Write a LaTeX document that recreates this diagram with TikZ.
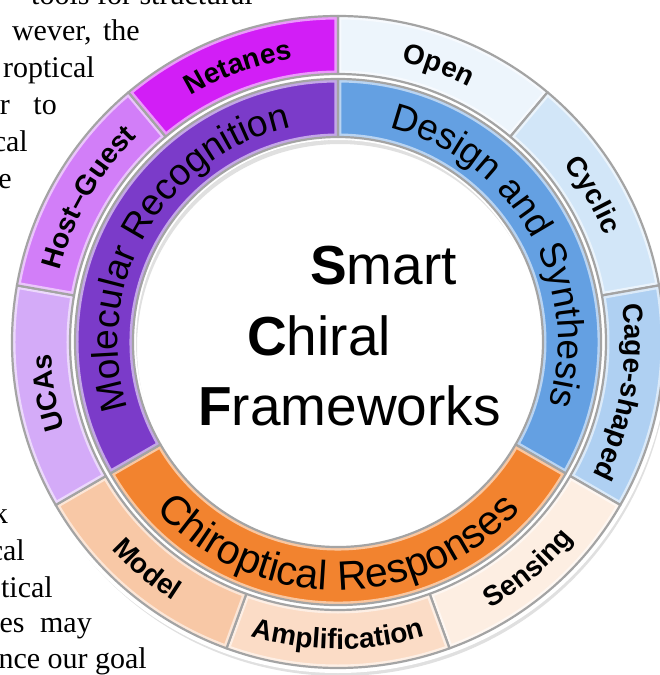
\documentclass[tikz,border=0pt]{standalone}
\usepackage{fontspec}
\setmainfont{Liberation Serif}
\setsansfont{Liberation Sans}
\usepackage{tikz}
\usetikzlibrary{decorations.text}

\definecolor{molrec}{HTML}{7B3BC9}
\definecolor{design}{HTML}{64A0E2}
\definecolor{chirop}{HTML}{F2832F}
\definecolor{netanes}{HTML}{D21EF6}
\definecolor{hostguest}{HTML}{D27EF8}
\definecolor{ucas}{HTML}{D4ABF8}
\definecolor{open}{HTML}{EDF5FC}
\definecolor{cyclic}{HTML}{D2E6F8}
\definecolor{cage}{HTML}{AFD0F2}
\definecolor{sensing}{HTML}{FDEEE2}
\definecolor{amplif}{HTML}{FBDCC6}
\definecolor{model}{HTML}{F8C8A6}
\definecolor{segline}{HTML}{A4A4A4}

\newcommand{\innerfont}{\fontsize{37}{40}\selectfont\sffamily}
\newcommand{\widefont}{\fontsize{41}{44}\selectfont\sffamily}
\newcommand{\outerfont}{\fontsize{28}{32}\selectfont\sffamily\bfseries}

% annular piece: start angle, end angle, inner radius, outer radius, colour
\newcommand{\ringseg}[5]{%
  \begin{scope}
    \clip (#1:#3) arc[start angle=#1, end angle=#2, radius=#3]
      -- (#2:#4) arc[start angle=#2, end angle=#1, radius=#4] -- cycle;
    \fill[#5] (0,0) circle[radius=#4];
    \draw[#5!45!white, line width=7pt] (#1:#3) arc[start angle=#1, end angle=#2, radius=#3]
      -- (#2:#4) arc[start angle=#2, end angle=#1, radius=#4] -- cycle;
  \end{scope}
  \draw[segborder] (#1:#3) arc[start angle=#1, end angle=#2, radius=#3]
    -- (#2:#4) arc[start angle=#2, end angle=#1, radius=#4] -- cycle;
}

\begin{document}
\begin{tikzpicture}[
  segborder/.style={draw=segline, line width=2.2pt, line join=round},
  bodytext/.style={anchor=base east, inner sep=0pt, font=\fontsize{30}{36}\selectfont},
  title/.style={anchor=base west, inner sep=0pt, font=\fontsize{55}{60}\selectfont\sffamily},
  arclabel/.style={decorate, decoration={text along path, text align=center, text={#1}}}
]
\useasboundingbox[fill=white] (-338pt,-333pt) rectangle (322pt,342pt);

% Page text running beside the wheel
\node[bodytext] (p1) at (-85pt,337pt) {tools for structural};
\node[bodytext] (p2) at (-198pt,301pt) {wever,\hspace{4pt} the};
\node[bodytext] (p3) at (-243pt,264pt) {roptical};
\node[bodytext] (p4) at (-281pt,227pt) {r\hspace{16pt} to};
\node[bodytext] (p5) at (-310pt,190pt) {cal};
\node[bodytext] (p6) at (-326pt,153pt) {e};
\node[bodytext] (p7) at (-330pt,-181pt) {k};
\node[bodytext] (p8) at (-313pt,-218pt) {cal};
\node[bodytext] (p9) at (-285pt,-255pt) {tical};
\node[bodytext] (p10) at (-246pt,-290pt) {es\hspace{8pt} may};
\node[bodytext] (p11) at (-191pt,-326pt) {nce our goal};

% Shadow under the wheel
\fill[black!12, even odd rule] (2pt,-5pt) circle[radius=329pt] (2pt,-5pt) circle[radius=203pt];
\fill[black!18, even odd rule] (1pt,-3pt) circle[radius=327pt] (1pt,-3pt) circle[radius=205pt];
\fill[white, even odd rule] (0,0) circle[radius=331pt] (0,0) circle[radius=202pt];

% Inner ring
\ringseg{90}{-30}{205pt}{263pt}{design}
\ringseg{-30}{-150}{205pt}{263pt}{chirop}
\ringseg{210}{90}{205pt}{263pt}{molrec}

% Outer ring
\ringseg{90}{50}{268pt}{326pt}{open}
\ringseg{50}{10}{268pt}{326pt}{cyclic}
\ringseg{10}{-30}{268pt}{326pt}{cage}
\ringseg{-30}{-70}{268pt}{326pt}{sensing}
\ringseg{-70}{-110}{268pt}{326pt}{amplif}
\ringseg{-110}{-150}{268pt}{326pt}{model}
\ringseg{210}{170}{268pt}{326pt}{ucas}
\ringseg{170}{130}{268pt}{326pt}{hostguest}
\ringseg{130}{90}{268pt}{326pt}{netanes}

% Inner labels
\path[arclabel={|\innerfont|Design and Synthesis}] (90:220pt) arc[start angle=90, end angle=-30, radius=220pt];
\path[arclabel={|\innerfont|Molecular Recognition}] (210:220pt) arc[start angle=210, end angle=90, radius=220pt];
\path[arclabel={|\widefont|Chiroptical Responses}] (-150:248pt) arc[start angle=-150, end angle=-30, radius=248pt];

% Outer labels
\path[arclabel={|\outerfont|Open}] (90:287pt) arc[start angle=90, end angle=50, radius=287pt];
\path[arclabel={|\outerfont|Cyclic}] (50:287pt) arc[start angle=50, end angle=10, radius=287pt];
\path[arclabel={|\outerfont|Cage-shaped}] (10:287pt) arc[start angle=10, end angle=-30, radius=287pt];
\path[arclabel={|\outerfont|Netanes}] (130:287pt) arc[start angle=130, end angle=90, radius=287pt];
\path[arclabel={|\outerfont|Host–Guest}] (170:287pt) arc[start angle=170, end angle=130, radius=287pt];
\path[arclabel={|\outerfont|UCAs}] (210:287pt) arc[start angle=210, end angle=170, radius=287pt];
\path[arclabel={|\outerfont|Model}] (-150:307pt) arc[start angle=-150, end angle=-110, radius=307pt];
\path[arclabel={|\outerfont|Amplification}] (-110:307pt) arc[start angle=-110, end angle=-70, radius=307pt];
\path[arclabel={|\outerfont|Sensing}] (-70:307pt) arc[start angle=-70, end angle=-30, radius=307pt];

% Title in the middle
\node[title] (smart) at (-28pt,57pt) {\textbf{S}mart};
\node[title] (chiral) at (-91pt,-13pt) {\textbf{C}hiral};
\node[title] (frameworks) at (-140pt,-83pt) {\textbf{F}rameworks};

\end{tikzpicture}
\end{document}
